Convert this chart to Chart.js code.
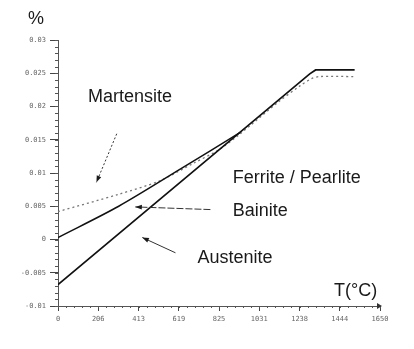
<!DOCTYPE html>
<html>
<head>
<meta charset="utf-8">
<script src="https://cdn.jsdelivr.net/npm/chart.js@4.4.0/dist/chart.umd.min.js"></script>
<style>
  html, body { margin: 0; padding: 0; background: #fff; }
  #wrap { width: 414px; height: 349px; position: relative; }
</style>
</head>
<body>
<div id="wrap"><canvas id="chart"></canvas></div>
<script>
// temperatures (°C) and strain values
const austeniteT = [0, 1290, 1320, 1520];
const austeniteV = [-0.0068, 0.0249, 0.0255, 0.0255];

const bainiteT = [0, 311, 622, 934];
const bainiteV = [0.0003, 0.005, 0.0105, 0.0161];

const martensiteT = [0, 311, 519, 690, 830, 934, 1126, 1240, 1300, 1340, 1520];
const martensiteV = [0.0042, 0.0068, 0.0088, 0.0114, 0.0136, 0.0159, 0.0206, 0.0231, 0.0242, 0.0245, 0.0245];

const xTickLabels = ["0", "206", "413", "619", "825", "1031", "1238", "1444", "1650"];
const yTickLabels = ["-0.01", "-0.005", "0", "0.005", "0.01", "0.015", "0.02", "0.025", "0.03"];

// labels and arrows, in data units
const labels = [
  { text: "Martensite", t: 154, v: 0.0214 },
  { text: "Ferrite / Pearlite", t: 895, v: 0.0093 },
  { text: "Bainite", t: 895, v: 0.0043 },
  { text: "Austenite", t: 715, v: -0.0028 },
  { text: "T(°C)", t: 1414, v: -0.0077 },
];
const arrows = [
  { from: [301, 0.0159], to: [197, 0.0086], dash: [2, 2] },
  { from: [781, 0.0045], to: [396, 0.0049], dash: [7, 2] },
  { from: [602, -0.002], to: [432, 0.0003], dash: [] },
];

function toXY(arr1, arr2) {
  return arr1.map((t, i) => ({ x: t, y: arr2[i] }));
}

const annotate = {
  id: "annotate",
  afterDatasetsDraw(chart) {
    const ctx = chart.ctx;
    const xs = chart.scales.x;
    const ys = chart.scales.y;
    ctx.save();

    // minor ticks along both axes
    ctx.strokeStyle = "#555";
    ctx.lineWidth = 1;
    for (let v = -0.01; v <= 0.0301; v += 0.001) {
      const py = Math.round(ys.getPixelForValue(v)) + 0.5;
      ctx.beginPath();
      ctx.moveTo(xs.left - 3, py);
      ctx.lineTo(xs.left, py);
      ctx.stroke();
    }
    for (let t = 0; t <= 1650; t += 206.25 / 5) {
      const px = Math.round(xs.getPixelForValue(t)) + 0.5;
      ctx.beginPath();
      ctx.moveTo(px, ys.bottom);
      ctx.lineTo(px, ys.bottom + 2);
      ctx.stroke();
    }

    // axis arrow end
    const ex = xs.getPixelForValue(1650);
    ctx.fillStyle = "#333";
    ctx.beginPath();
    ctx.moveTo(ex + 2, ys.bottom);
    ctx.lineTo(ex - 3, ys.bottom - 3);
    ctx.lineTo(ex - 3, ys.bottom + 3);
    ctx.closePath();
    ctx.fill();

    // text
    ctx.fillStyle = "#1a1a1a";
    ctx.font = "18px 'Liberation Sans', Arial, sans-serif";
    ctx.textBaseline = "middle";
    ctx.textAlign = "left";
    labels.forEach((l) => {
      ctx.fillText(l.text, xs.getPixelForValue(l.t), ys.getPixelForValue(l.v));
    });
    ctx.fillText("%", 28, 19);

    // arrows
    ctx.strokeStyle = "#333";
    ctx.lineWidth = 1;
    arrows.forEach((a) => {
      const x1 = xs.getPixelForValue(a.from[0]);
      const y1 = ys.getPixelForValue(a.from[1]);
      const x2 = xs.getPixelForValue(a.to[0]);
      const y2 = ys.getPixelForValue(a.to[1]);
      ctx.setLineDash(a.dash);
      ctx.beginPath();
      ctx.moveTo(x1, y1);
      ctx.lineTo(x2, y2);
      ctx.stroke();
      ctx.setLineDash([]);
      const ang = Math.atan2(y2 - y1, x2 - x1);
      ctx.beginPath();
      ctx.moveTo(x2, y2);
      ctx.lineTo(x2 - 7 * Math.cos(ang - 0.35), y2 - 7 * Math.sin(ang - 0.35));
      ctx.lineTo(x2 - 7 * Math.cos(ang + 0.35), y2 - 7 * Math.sin(ang + 0.35));
      ctx.closePath();
      ctx.fill();
    });
    ctx.restore();
  },
};

new Chart(document.getElementById("chart"), {
  type: "line",
  data: {
    datasets: [
      {
        label: "Austenite",
        data: toXY(austeniteT, austeniteV),
        borderColor: "#111",
        borderWidth: 1.7,
        pointRadius: 0,
        tension: 0,
      },
      {
        label: "Bainite",
        data: toXY(bainiteT, bainiteV),
        borderColor: "#111",
        borderWidth: 1.5,
        pointRadius: 0,
        tension: 0.3,
      },
      {
        label: "Martensite",
        data: toXY(martensiteT, martensiteV),
        borderColor: "#777",
        borderWidth: 1.3,
        borderDash: [2, 3],
        pointRadius: 0,
        tension: 0.3,
      },
    ],
  },
  options: {
    responsive: true,
    maintainAspectRatio: false,
    animation: false,
    layout: { padding: { top: 40, right: 34, left: 0, bottom: 0 } },
    plugins: { legend: { display: false }, tooltip: { enabled: false } },
    scales: {
      x: {
        type: "linear",
        min: 0,
        max: 1650,
        afterFit: (s) => { s.height = 43; },
        afterBuildTicks: (s) => {
          s.ticks = xTickLabels.map((l) => ({ value: Number(l) }));
        },
        ticks: {
          autoSkip: false,
          maxRotation: 0,
          font: { size: 7, family: "'DejaVu Sans Mono', monospace" },
          color: "#666",
          padding: 4,
          callback: (v, i) => xTickLabels[i],
        },
        grid: { drawOnChartArea: false, tickLength: 5, color: "#444" },
        border: { color: "#555", dash: [2, 2] },
      },
      y: {
        min: -0.01,
        max: 0.03,
        afterFit: (s) => { s.width = 58; },
        afterBuildTicks: (s) => {
          s.ticks = yTickLabels.map((l) => ({ value: Number(l) }));
        },
        ticks: {
          autoSkip: false,
          font: { size: 7, family: "'DejaVu Sans Mono', monospace" },
          color: "#666",
          padding: 4,
          callback: (v, i) => yTickLabels[i],
        },
        grid: { drawOnChartArea: false, tickLength: 8, color: "#444" },
        border: { color: "#555", dash: [2, 2] },
      },
    },
  },
  plugins: [annotate],
});
</script>
</body>
</html>
